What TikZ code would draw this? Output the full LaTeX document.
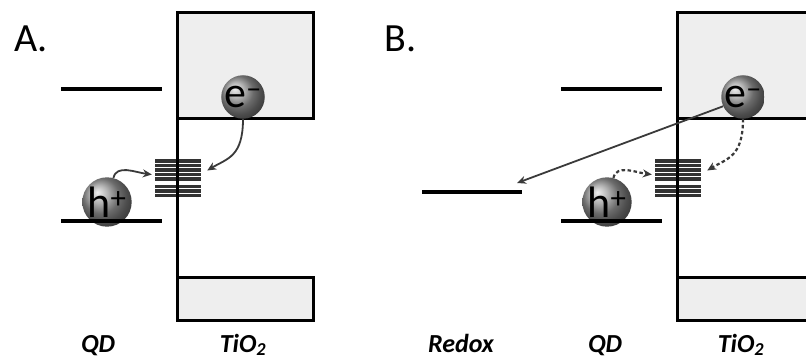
\documentclass[tikz,border=0pt]{standalone}
\usepackage{fontspec}
\setmainfont{Carlito}
\usetikzlibrary{arrows.meta}

\definecolor{bandgray}{HTML}{EEEEEE}
\definecolor{arrowgray}{HTML}{3A3A3A}

\begin{document}
\begin{tikzpicture}[x=1pt, y=-1pt,
  level/.style={line width=4pt},
  band/.style={draw=black, line width=3pt, fill=bandgray},
  wall/.style={line width=3pt},
  trapline/.style={line width=3.4pt, draw=black!80},
  trapbox/.style={minimum width=46pt, minimum height=38pt, inner sep=0pt},
  carrier/.style={circle, minimum size=41pt, inner sep=0pt, shading=ball, ball color=black!40,
    font=\fontsize{44}{44}\selectfont},
  panellbl/.style={font=\fontsize{40}{40}\selectfont},
  matlbl/.style={font=\fontsize{26}{26}\selectfont\bfseries\itshape},
  hop/.style={draw=arrowgray, line width=1.8pt, -{Stealth[length=9pt,width=8pt]}},
  dhop/.style={hop, line width=2.2pt, dash pattern=on 3.5pt off 2.5pt}
]
\clip (0,0) rectangle (806,361);

% ---- panel A ----
\node[panellbl, anchor=base west] (lblA) at (11,52) {A.};
\draw[level] (61,89) -- (162,89);
\filldraw[band] (177,13) rectangle (313,118);
\filldraw[band] (177,277) rectangle (313,320);
\foreach \y in {161,165.5,170,174.5,179,186.5,191,195.5}
  \draw[trapline] (155,\y) -- (201,\y);
\node[trapbox] (trapA) at (178,178.5) {};
\draw[wall] (177,13) -- (177,320);
\node[carrier] (eA) at (243,97) {e\textsuperscript{--}};
\node[carrier] (hA) at (107,202) {h\textsuperscript{+}};
\draw[level] (61,221) -- (162,221);
\draw[hop] (eA.south) .. controls +(0,38) and +(20,-12) .. ([xshift=6pt,yshift=8pt]trapA.east);
\draw[hop] (hA.75) .. controls +(3,-14) and +(-16,-2) .. ([xshift=-3pt,yshift=4pt]trapA.west);
\node[matlbl, anchor=base] (qdA) at (98,352) {QD};
\node[matlbl, anchor=base] (tioA) at (243,352) {TiO\textsubscript{2}};

% ---- panel B ----
\node[panellbl, anchor=base west] (lblB) at (381,52) {B.};
\draw[level] (422,192) -- (522,192);
\coordinate (redox) at (522,192);
\draw[level] (561,89) -- (662,89);
\filldraw[band] (677,13) rectangle (830,118);
\filldraw[band] (677,277) rectangle (830,320);
\foreach \y in {161,165.5,170,174.5,179,186.5,191,195.5}
  \draw[trapline] (655,\y) -- (701,\y);
\node[trapbox] (trapB) at (678,178.5) {};
\draw[wall] (677,13) -- (677,320);
\node[carrier] (eB) at (743,97) {e\textsuperscript{--}};
\node[carrier] (hB) at (607,202) {h\textsuperscript{+}};
\draw[level] (561,221) -- (662,221);
\draw[hop] (eB.205) -- ([xshift=-5pt,yshift=9pt]redox);
\draw[dhop] (eB.south) .. controls +(0,38) and +(20,-12) .. ([xshift=6pt,yshift=8pt]trapB.east);
\draw[dhop] (hB.75) .. controls +(3,-14) and +(-16,-2) .. ([xshift=-3pt,yshift=4pt]trapB.west);
\node[matlbl, anchor=base] (rdB) at (461,352) {Redox};
\node[matlbl, anchor=base] (qdB) at (605,352) {QD};
\node[matlbl, anchor=base] (tioB) at (741,352) {TiO\textsubscript{2}};
\end{tikzpicture}
\end{document}
